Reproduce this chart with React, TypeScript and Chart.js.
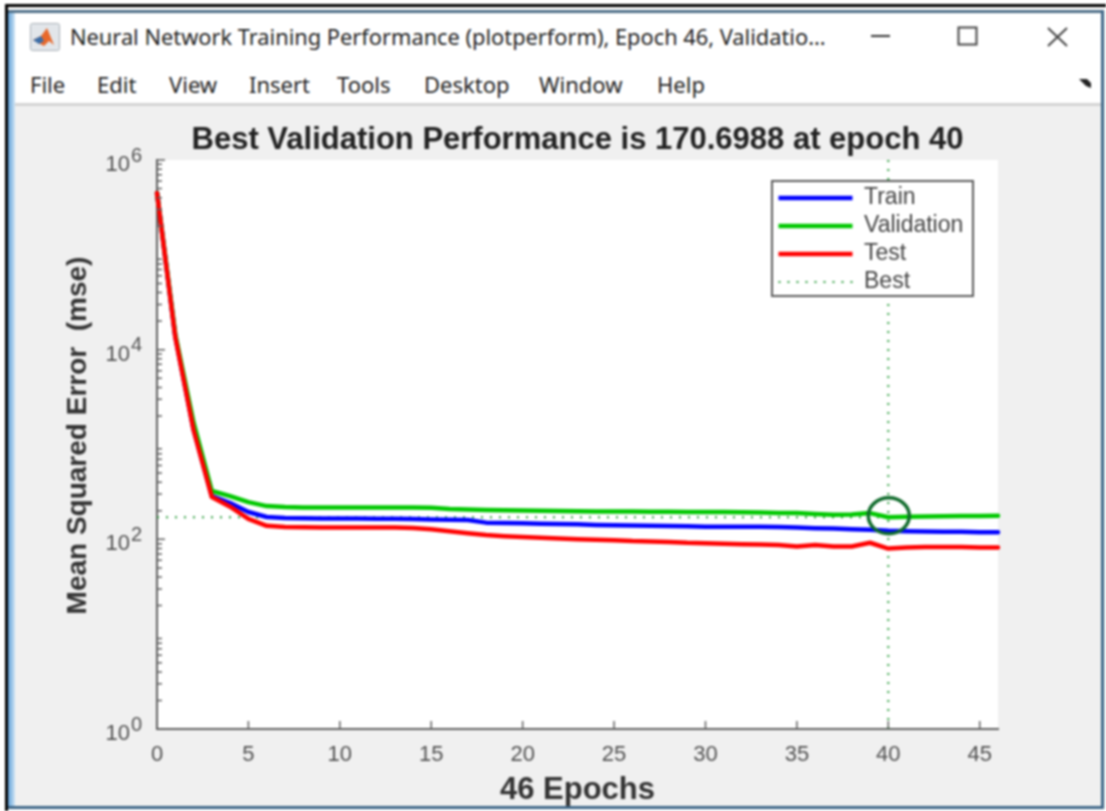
import React, { useEffect, useRef } from "react";
import { Chart, registerables } from "chart.js";

Chart.register(...registerables);

const epochs = [0,1,2,3,4,5,6,7,8,9,10,11,12,13,14,15,16,17,18,19,20,21,22,23,24,25,26,27,28,29,30,31,32,33,34,35,36,37,38,39,40,41,42,43,44,45,46];
const trainMse = [450000,13800,1450,286,241,194,172,168,167,166,166,166,165,165,164,162,161,160,150,149,148,146,145,144,142,141,140,139,138,137,136,136,136,136,135,133,131,130,128,126,123,122,121,120,120,119,119];
const validationMse = [450000,14500,1700,323,286,247,224,219,217,216,216,216,216,217,217,215,209,206,204,203,201,200,199,198,197,196,196,195,195,194,194,194,193,192,190,189,185,182,183,189,170.6988,173,174,175,176,176,177];
const testMse = [449000,13600,1423,279,221,164,139,135,134,133,133,133,133,133,132,128,122,116,111,108,106,104,102,100,99,98,96,95,94,92,91,90,89,88,87,84,87,84,84,92,80,82,83,83,83,82,82];
const bestEpoch = 40;
const bestValue = 170.6988;
const yRange = [1, 1000000];
const xRange = [0, 46];
const yTickValues = [1, 100, 10000, 1000000];
const yTickExponents = ["0", "2", "4", "6"];
const xTickValues = [0, 5, 10, 15, 20, 25, 30, 35, 40, 45];
const minorMultipliers = [2, 3, 4, 5, 6, 7, 8, 9];
const bestDash = [2, 7];
const windowTitle = "Neural Network Training Performance (plotperform), Epoch 46, Validatio...";
const menuItems: [string, number][] = [["File", 30], ["Edit", 97], ["View", 169], ["Insert", 249], ["Tools", 337], ["Desktop", 424], ["Window", 539], ["Help", 657]];

const AXIS = "#5f5f5f";
const LABEL = "#505050";
const BEST = "#2f9e3f";
const SANS = '"Liberation Sans", Arial, sans-serif';

const decorations = {
  id: "decorations",
  beforeDraw(chart: any) {
    const { ctx, chartArea: a } = chart;
    ctx.save();
    ctx.fillStyle = "#ffffff";
    ctx.fillRect(a.left, a.top, a.right - a.left, a.bottom - a.top);
    ctx.restore();
    const legend = chart.legend;
    legend.left = 773.5;
    legend.right = 973;
    legend.top = 181.5;
    legend.bottom = 400;
  },
  afterDatasetsDraw(chart: any) {
    const { ctx, chartArea: a, scales } = chart;
    const { x, y } = scales;
    ctx.save();
    ctx.strokeStyle = AXIS;
    ctx.lineWidth = 1.5;
    ctx.beginPath();
    xTickValues.forEach((v) => {
      const px = x.getPixelForValue(v);
      ctx.moveTo(px, a.bottom);
      ctx.lineTo(px, a.bottom - 8);
    });
    for (let d = 1; d < 1000000; d *= 10) {
      minorMultipliers.forEach((m) => {
        const py = y.getPixelForValue(d * m);
        ctx.moveTo(a.left, py);
        ctx.lineTo(a.left + 5, py);
      });
    }
    yTickValues.forEach((v) => {
      const py = y.getPixelForValue(v);
      ctx.moveTo(a.left, py);
      ctx.lineTo(a.left + 8, py);
    });
    ctx.stroke();

    // exponents of the "10" tick labels
    ctx.fillStyle = LABEL;
    ctx.font = `20px ${SANS}`;
    ctx.textAlign = "left";
    ctx.textBaseline = "middle";
    yTickValues.forEach((v, i) => {
      ctx.fillText(yTickExponents[i], 131, y.getPixelForValue(v) - 4);
    });

    // hand-drawn highlight around the best epoch
    ctx.strokeStyle = "#0f6b2b";
    ctx.lineWidth = 3.5;
    ctx.beginPath();
    ctx.ellipse(x.getPixelForValue(bestEpoch) + 0.5, y.getPixelForValue(bestValue) - 1.5, 20.5, 18, 0, 0, Math.PI * 2);
    ctx.stroke();

    // legend sits above the data, with its frame
    ctx.fillStyle = "#ffffff";
    ctx.strokeStyle = "#5a5a5a";
    ctx.lineWidth = 2;
    ctx.fillRect(772, 181, 201, 115);
    ctx.strokeRect(772, 181, 201, 115);
    ctx.restore();
    chart.legend.draw();
  },
};

export default function App() {
  const ref = useRef<HTMLCanvasElement | null>(null);
  useEffect(() => {
    if (!ref.current) return;
    const series = (label: string, values: number[], color: string, order: number) => ({
      label,
      data: epochs.map((e, i) => ({ x: e, y: values[i] })),
      borderColor: color,
      backgroundColor: color,
      borderWidth: 4.5,
      borderCapStyle: "round",
      borderJoinStyle: "round",
      pointRadius: 0,
      tension: 0,
      clip: false,
      order,
    });
    const bestLine = (label: string, data: { x: number; y: number }[]) => ({
      label,
      data,
      borderColor: BEST,
      backgroundColor: BEST,
      borderWidth: 2,
      borderDash: bestDash,
      pointRadius: 0,
      order: 5,
    });
    const chart = new Chart(ref.current, {
      type: "line",
      plugins: [decorations],
      data: {
        datasets: [
          series("Train", trainMse, "#0000ff", 3),
          series("Validation", validationMse, "#00c800", 2),
          series("Test", testMse, "#ff0000", 1),
          bestLine("Best", [{ x: bestEpoch, y: yRange[0] }, { x: bestEpoch, y: yRange[1] }]),
          bestLine("Best value", [{ x: xRange[0], y: bestValue }, { x: bestEpoch, y: bestValue }]),
        ],
      },
      options: {
        responsive: false,
        animation: false,
        devicePixelRatio: 1,
        layout: { padding: { left: 56, top: 116.4, right: 108, bottom: 0 } },
        plugins: {
          tooltip: { enabled: false },
          title: {
            display: true,
            text: "Best Validation Performance is 170.6988 at epoch 40",
            color: "#222222",
            fullSize: false,
            font: { family: SANS, size: 31, weight: "bold" },
            padding: { top: 5.2, bottom: 1.2 },
          },
          legend: {
            display: true,
            position: "chartArea",
            align: "start",
            labels: {
              color: "#444444",
              font: { family: SANS, size: 23 },
              usePointStyle: true,
              pointStyle: "line",
              pointStyleWidth: 74,
              padding: 5,
              generateLabels: (chart: any) =>
                Chart.defaults.plugins.legend.labels.generateLabels(chart).map((item: any) => ({
                  ...item,
                  lineDash: item.datasetIndex === 3 ? bestDash : [],
                })),
              filter: (item: any) => item.datasetIndex <= 3,
              sort: (a: any, b: any) => a.datasetIndex - b.datasetIndex,
            },
          },
        },
        scales: {
          x: {
            type: "linear",
            min: xRange[0],
            max: xRange[1],
            afterFit: (s: any) => { s.height = 82; },
            afterBuildTicks: (s: any) => { s.ticks = xTickValues.map((value) => ({ value })); },
            grid: { display: false, drawTicks: false },
            border: { display: true, color: AXIS, width: 2 },
            ticks: {
              color: LABEL,
              font: { family: SANS, size: 22 },
              padding: 13,
              maxRotation: 0,
              autoSkip: false,
              callback: (v: any) => String(v),
            },
            title: {
              display: true,
              text: "46 Epochs",
              color: "#333333",
              font: { family: SANS, size: 31, weight: "bold" },
              padding: { top: 0, bottom: 2 },
            },
          },
          y: {
            type: "logarithmic",
            min: yRange[0],
            max: yRange[1],
            afterFit: (s: any) => {
              s.width = 101;
              if (!s.__shifted) {
                s.__shifted = true;
                const baseTitle = s.drawTitle.bind(s);
                s.drawTitle = () => {
                  s.ctx.save();
                  s.ctx.translate(0, -9);
                  baseTitle();
                  s.ctx.restore();
                };
                const baseLabels = s.drawLabels.bind(s);
                s.drawLabels = (area: any) => {
                  s.ctx.save();
                  s.ctx.translate(0, 5);
                  baseLabels(area);
                  s.ctx.restore();
                };
              }
            },
            afterBuildTicks: (s: any) => { s.ticks = yTickValues.map((value) => ({ value })); },
            grid: { display: false, drawTicks: false },
            border: { display: true, color: AXIS, width: 2 },
            ticks: {
              color: LABEL,
              font: { family: SANS, size: 22 },
              padding: 27,
              autoSkip: false,
              callback: () => "10",
            },
            title: {
              display: true,
              text: "Mean Squared Error  (mse)",
              color: "#333333",
              font: { family: SANS, size: 28, weight: "bold" },
              padding: { top: 5.2, bottom: 0 },
            },
          },
        },
      },
    } as any);
    return () => chart.destroy();
  }, []);

  const abs = (s: React.CSSProperties): React.CSSProperties => ({ position: "absolute", ...s });
  return (
    <div style={{ position: "fixed", left: 0, top: 0, width: 1106, height: 811, overflow: "hidden", background: "#fff", filter: "blur(0.8px)" }}>
      <div style={abs({ left: 5, top: 4, width: 1101, height: 3, background: "#000" })} />
      <div style={abs({ left: 5, top: 4, width: 3, height: 807, background: "#000" })} />
      <div style={abs({ left: 8, top: 10, width: 1097, height: 799, background: "#f0f0f0" })} />
      <div style={abs({ left: 8, top: 13, width: 1094, height: 90, background: "#fff" })} />
      <div style={abs({ left: 8, top: 103, width: 1094, height: 3, background: "#d4d4d4" })} />
      <div style={abs({ left: 8, top: 10, width: 1094, height: 3, background: "#4f6f88" })} />
      <div style={abs({ left: 8, top: 13, width: 7, height: 796, background: "linear-gradient(90deg,#5f9fd6,#cfe5f6)" })} />
      <div style={abs({ left: 1101, top: 10, width: 3, height: 799, background: "#3f6788" })} />
      <div style={abs({ left: 8, top: 806, width: 1096, height: 3, background: "#3f6788" })} />
      <svg style={abs({ left: 30, top: 23, width: 30, height: 28 })} viewBox="0 0 30 28">
        <rect x="0.5" y="0.5" width="29" height="27" rx="2" fill="#e2e6ea" stroke="#a9b0b6" />
        <path d="M3 17 L11 13 L17 5 L24 22 L19 18 L14 23 Z" fill="#e8682a" />
        <path d="M3 17 L11 13 L14 18 L9 21 Z" fill="#3b6ea8" />
      </svg>
      <div style={abs({ left: 70, top: 24, fontFamily: '"Noto Sans", sans-serif', fontSize: 21.8, lineHeight: "26px", color: "#222", whiteSpace: "nowrap" })}>{windowTitle}</div>
      {menuItems.map(([m, left]) => (
        <div key={m} style={abs({ left, top: 71, fontFamily: '"Noto Sans", sans-serif', fontSize: 22, lineHeight: "26px", color: "#222" })}>{m}</div>
      ))}
      <svg style={abs({ left: 860, top: 20, width: 220, height: 34 })} viewBox="0 0 220 34">
        <line x1="11" y1="16" x2="30" y2="16" stroke="#333" strokeWidth="2" />
        <rect x="98.5" y="7.5" width="18" height="17" fill="none" stroke="#444" strokeWidth="2" />
        <path d="M188 8 L207 26 M207 8 L188 26" stroke="#444" strokeWidth="2" />
      </svg>
      <svg style={abs({ left: 1078, top: 77, width: 14, height: 12 })} viewBox="0 0 14 12">
        <path d="M1 2 L9 2 L13 6 L13 11 L8 9 Z" fill="#222" />
      </svg>
      <canvas ref={ref} width={1106} height={811} style={abs({ left: 0, top: 0, width: 1106, height: 811 })} />
    </div>
  );
}
